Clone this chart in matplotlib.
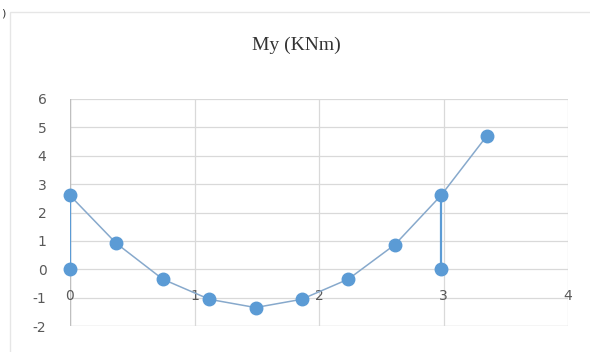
import matplotlib
matplotlib.use("Agg")
import matplotlib.pyplot as plt
from matplotlib.patches import Rectangle

# Data
x_curve = [0.0, 0.37, 0.745, 1.12, 1.49, 1.86, 2.235, 2.61, 2.98, 3.35]
my_curve = [2.6, 0.92, -0.35, -1.06, -1.35, -1.06, -0.35, 0.87, 2.6, 4.71]
x_support_a = [0.0, 0.0]
my_support_a = [0.0, 2.6]
x_support_b = [2.98, 2.98]
my_support_b = [0.0, 2.6]

x_ticks = [0, 1, 2, 3, 4]
y_ticks = [-2, -1, 0, 1, 2, 3, 4, 5, 6]
title = "My (KNm)"

W, H = 590, 352
fig = plt.figure(figsize=(W / 100, H / 100), dpi=100)
fig.patch.set_facecolor("white")

# faint chart border
fig.patches.append(Rectangle((10 / W, -0.1), 1.2, 1 - 12 / H + 0.1, transform=fig.transFigure,
                             fill=False, edgecolor="#e6e6e6", lw=1.0))
fig.text(0.001, 1 - 14 / H, ")", fontsize=8, color="#333333", ha="left", va="center")

ax = fig.add_axes([70 / W, 1 - 326 / H, (568 - 70) / W, (326 - 99) / H])
ax.set_xlim(0, 4)
ax.set_ylim(-2, 6)
ax.set_xticks(x_ticks)
ax.set_yticks(y_ticks)
ax.grid(True, color="#d9d9d9", lw=0.9)
ax.set_axisbelow(True)
for s in ax.spines.values():
    s.set_visible(False)
ax.axvline(0, color="#bfbfbf", lw=1.0, zorder=1)
ax.axhline(-2, color="#d9d9d9", lw=0.9, zorder=1)

ax.tick_params(axis="both", length=0)
ax.set_xticklabels([])
ax.set_yticklabels([str(v) for v in y_ticks], fontsize=10, color="#595959",
                   fontfamily="DejaVu Sans")
ax.tick_params(axis="y", pad=17)
for xt in x_ticks:
    ax.text(xt, -0.7, str(xt), ha="center", va="top", fontsize=10, color="#595959",
            fontfamily="DejaVu Sans")

blue = "#5b9bd5"
ax.plot(x_support_a, my_support_a, color=blue, lw=1.6, zorder=3)
ax.plot(x_support_b, my_support_b, color=blue, lw=1.6, zorder=3)
ax.plot(x_curve, my_curve, color="#87a9cc", lw=1.1, zorder=3)
ax.plot(x_curve, my_curve, ls="none", marker="o", ms=9, color=blue, zorder=4, clip_on=False)
ax.plot([x_support_a[0], x_support_b[0]], [my_support_a[0], my_support_b[0]], ls="none",
        marker="o", ms=9, color=blue, zorder=4, clip_on=False)

fig.text(296 / W, 1 - 45 / H, title, ha="center", va="center", fontsize=14,
         fontfamily="Liberation Serif", color="#333333")

fig.savefig("out.png", dpi=100)
